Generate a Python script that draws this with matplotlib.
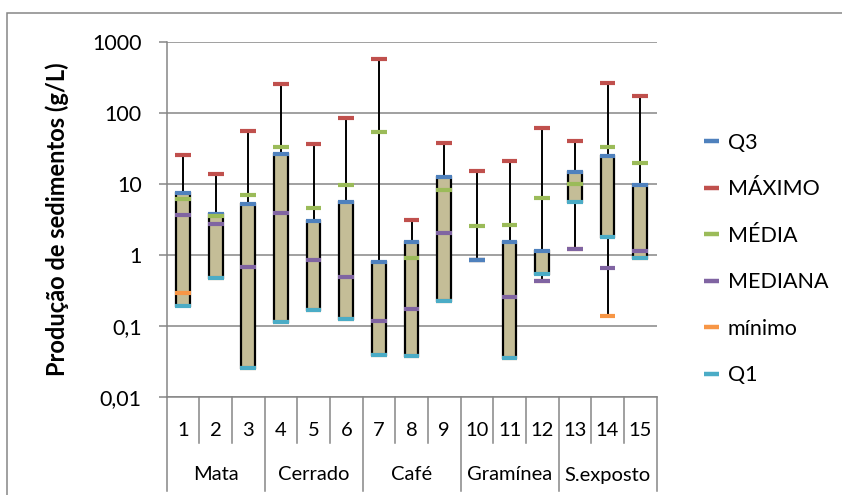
import matplotlib
matplotlib.use("Agg")
import matplotlib.pyplot as plt
from matplotlib.patches import Rectangle
from matplotlib.lines import Line2D

plt.rcParams['font.family'] = ['Lato', 'DejaVu Sans']

# sediment yield per plot (g/L)
plots = list(range(1, 16))
groups = ["Mata", "Cerrado", "Café", "Gramínea", "S.exposto"]
q3 = [7.3, 3.8, 5.2, 26, 3.0, 5.5, 0.80, 1.51, 12.4, 0.84, 1.49, 1.14, 14.8, 24.3, 9.6]
maximo = [25, 13.5, 56, 254, 36, 84, 563, 3.08, 37.8, 15.1, 20.6, 61, 40, 265, 172]
media = [6.1, 3.5, 7.0, 32.5, 4.6, 9.7, 53, 0.89, 8.05, 2.5, 2.6, 6.35, 10, 33, 19.6]
mediana = [3.6, 2.7, 0.68, 3.9, 0.84, 0.48, 0.115, 0.172, 2.0, 0.84, 0.256, 0.42, 1.19, 0.64, 1.14]
minimo = [0.29, 0.47, 0.025, 0.114, 0.168, 0.126, 0.039, 0.038, 0.22, 0.84, 0.035, 0.42, 1.19, 0.138, 0.89]
q1 = [0.19, 0.47, 0.025, 0.114, 0.168, 0.126, 0.039, 0.038, 0.22, 0.84, 0.035, 0.54, 5.45, 1.79, 0.89]

C_Q3 = "#4F81BD"
C_MAX = "#C0504D"
C_MEDIA = "#9BBB59"
C_MEDIANA = "#8064A2"
C_MIN = "#F79646"
C_Q1 = "#4BACC6"
GRID = "#868686"
FS = 15.5
FS_CAT = 14.5

W, H = 842, 495
fig = plt.figure(figsize=(W / 100, H / 100), dpi=100)

# chart frame
fig.add_artist(Rectangle((7 / W, -0.1), 1.2, 1 - 13 / H + 0.1, transform=fig.transFigure,
                         fill=False, edgecolor=GRID, lw=1.1))

left, right, top, bottom = 166.7, 656.5, 41.7, 396.7
ax = fig.add_axes([left / W, 1 - bottom / H, (right - left) / W, (bottom - top) / H])

ax.set_yscale("log")
ax.set_ylim(0.01, 1000)
ax.set_xlim(0.5, 15.5)

# whiskers span every statistic of each plot
lows = [min(v) for v in zip(q3, maximo, media, mediana, minimo, q1)]
highs = [max(v) for v in zip(q3, maximo, media, mediana, minimo, q1)]
ax.vlines(plots, lows, highs, colors="black", lw=1.4, zorder=2)

# boxes from Q1 to Q3
bw = 0.42
for x, lo, hi in zip(plots, q1, q3):
    if hi > lo:
        ax.add_patch(Rectangle((x - bw / 2, lo), bw, hi - lo, facecolor="#C4BD97",
                               edgecolor="black", lw=1.6, zorder=3))

mw = 0.48
series = [
    (minimo, C_MIN, 4.0),
    (q1, C_Q1, 4.1),
    (mediana, C_MEDIANA, 4.2),
    (q3, C_Q3, 4.3),
    (maximo, C_MAX, 4.4),
    (media, C_MEDIA, 4.5),
]
for vals, c, z in series:
    ax.hlines(vals, [x - mw / 2 for x in plots], [x + mw / 2 for x in plots],
              colors=c, lw=3.0, zorder=z)

# axes styling
ax.set_yticks([0.01, 0.1, 1, 10, 100, 1000])
ax.set_yticklabels(["0,01", "0,1", "1", "10", "100", "1000"], fontsize=FS)
ax.yaxis.set_minor_locator(matplotlib.ticker.NullLocator())
ax.tick_params(axis="y", length=6, width=1.1, color=GRID, pad=12)
ax.grid(axis="y", color=GRID, lw=1.1)
ax.set_axisbelow(True)
for s in ["top", "right"]:
    ax.spines[s].set_visible(False)
for s in ["left", "bottom"]:
    ax.spines[s].set_color(GRID)
    ax.spines[s].set_linewidth(1.1)

ax.set_xticks(plots)
ax.set_xticklabels([str(p) for p in plots], fontsize=FS_CAT)
ax.tick_params(axis="x", length=0, pad=18)

ax.set_ylabel("Produção de sedimentos (g/L)", fontsize=17, fontweight="bold")
ax.yaxis.set_label_coords(-(left - 69) / (right - left), 0.5)

# two level category axis
tr = ax.get_xaxis_transform()
ph = bottom - top
y_num = -(443 - bottom) / ph
y_grp = -(491 - bottom) / ph
for k in range(16):
    xb = 0.5 + k
    yb = y_grp if k % 3 == 0 else y_num
    ax.plot([xb, xb], [0, yb], transform=tr, color=GRID, lw=1.1, clip_on=False)
for i, g in enumerate(groups):
    ax.text(2 + 3 * i, -(475 - bottom) / ph, g, transform=tr, ha="center", va="center",
            fontsize=FS_CAT)

# legend in Q3, MÁXIMO, MÉDIA, MEDIANA, mínimo, Q1 order
order = [(C_Q3, "Q3"), (C_MAX, "MÁXIMO"), (C_MEDIA, "MÉDIA"),
         (C_MEDIANA, "MEDIANA"), (C_MIN, "mínimo"), (C_Q1, "Q1")]
handles = [Line2D([], [], color=c, lw=3.2, solid_capstyle="butt") for c, _ in order]
fig.legend(handles, [l for _, l in order], loc="upper left",
           bbox_to_anchor=(693 / W, 1 - 122 / H), frameon=False, fontsize=FS,
           handlelength=0.7, handletextpad=0.42, labelspacing=1.23, borderpad=0)

fig.savefig("out.png", dpi=100)
